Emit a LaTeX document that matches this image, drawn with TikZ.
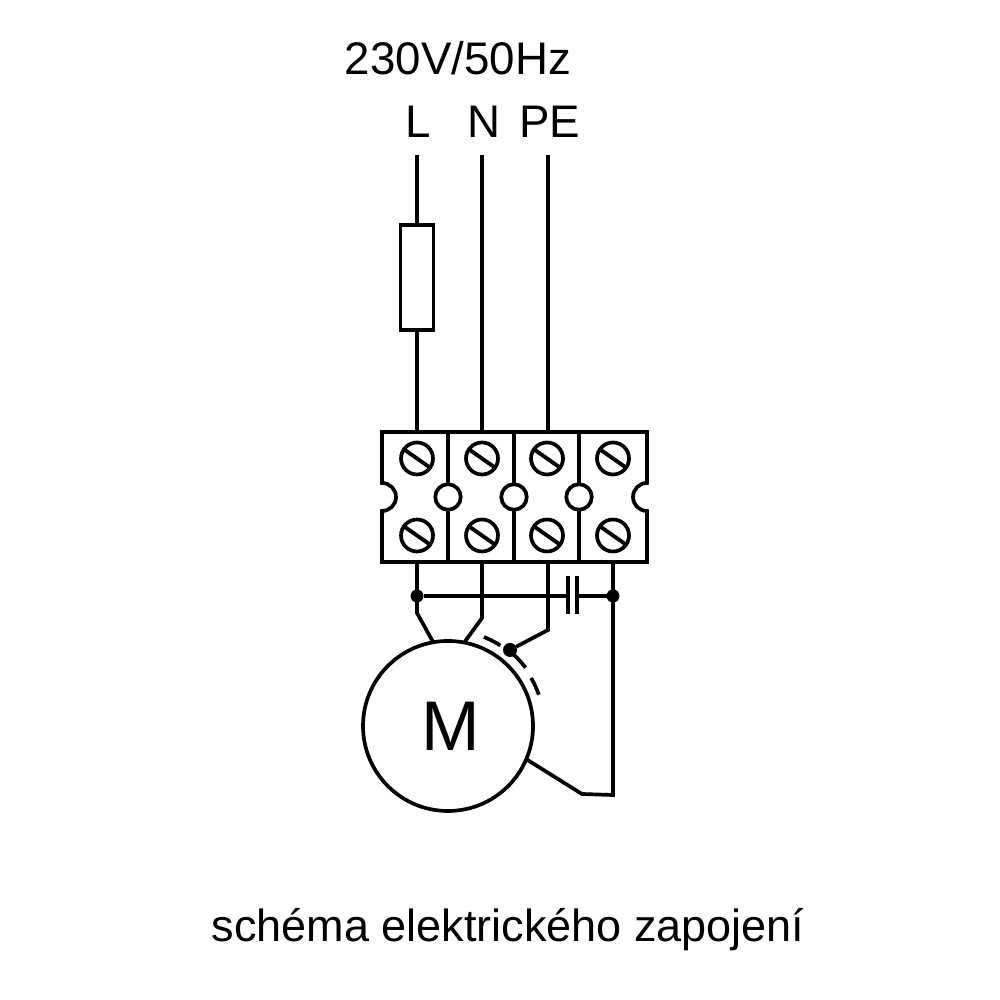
\documentclass[tikz,border=0pt]{standalone}
\usepackage{fontspec}
\setmainfont{Liberation Sans}
\usetikzlibrary{positioning}
\tikzset{
    wire/.style={line width=1.05pt},
    screw/.style={circle,draw,line width=1.05pt,minimum size=0.32cm,inner sep=0pt,outer sep=0pt},
    hole/.style={circle,draw,fill=white,line width=1.05pt,minimum size=0.255cm,inner sep=0pt,outer sep=0pt},
    joint/.style={circle,fill=black,minimum size=#1,inner sep=0pt,outer sep=0pt},
    lbl/.style={font=\fontsize{13}{15}\selectfont,inner sep=0pt}
}

\begin{document}
\begin{tikzpicture}[wire]
    \useasboundingbox (0,0) rectangle (10,10);

    % labels
    \node[lbl] (supply) at (4.58,9.42) {230V/50Hz};
    \node[lbl] (L) at (4.18,8.78) {L};
    \node[lbl] (N) at (4.835,8.78) {N};
    \node[lbl] (PE) at (5.495,8.78) {PE};
    \node[lbl,font=\fontsize{12.8}{15}\selectfont] (caption) at (5.08,0.70) {schéma elektrického zapojení};

    % terminal block
    \node[minimum width=2.65cm,minimum height=1.30cm,inner sep=0pt,outer sep=0pt] (block) at (5.145,5.03) {};
    \draw (block.north west) -- (block.north east) -- ++(0,-0.51)
        arc[start angle=90,end angle=270,radius=0.14] -- (block.south east)
        -- (block.south west) -- ++(0,0.51)
        arc[start angle=-90,end angle=90,radius=0.14] -- cycle;
    \foreach \x [count=\i] in {4.17,4.82,5.47,6.13} {
        \node[screw] (top\i) at (\x,5.415) {};
        \node[screw] (bot\i) at (\x,4.645) {};
        \draw[line width=1.1pt] (top\i.145) -- (top\i.-35);
        \draw[line width=1.1pt] (bot\i.145) -- (bot\i.-35);
    }
    \foreach \x [count=\i] in {4.48,5.14,5.79} {
        \node[hole] (h\i) at (\x,5.03) {};
        \draw (h\i.north) -- (h\i.north |- block.north);
        \draw (h\i.south) -- (h\i.south |- block.south);
    }

    % fuse
    \node[draw,minimum width=0.33cm,minimum height=1.05cm,inner sep=0pt,outer sep=0pt] (fuse) at (4.17,7.225) {};

    % motor
    \node[circle,draw,minimum size=1.70cm,inner sep=0pt,outer sep=0pt,font=\fontsize{20}{22}\selectfont] (M) at (4.48,2.74) {\hspace*{0.06cm}M};

    % points on the wires
    \coordinate (Lin) at (4.17,8.45);
    \coordinate (Nin) at (4.82,8.45);
    \coordinate (PEin) at (5.48,8.45);
    \coordinate (Lbend) at (4.17,3.87);
    \coordinate (Nbend) at (4.82,3.82);
    \coordinate (PEbend) at (5.48,3.70);
    \coordinate (Rbend) at (6.13,2.05);
    \coordinate (Mbend) at (5.82,2.06);
    \coordinate (capl) at (5.68,4.04);
    \coordinate (capr) at (5.77,4.04);
    \node[joint=0.13cm] (jl) at (4.17,4.04) {};
    \node[joint=0.13cm] (jr) at (6.13,4.04) {};
    \node[joint=0.14cm] (jm) at (5.10,3.50) {};

    % supply side
    \draw (Lin) -- (fuse.north);
    \draw (fuse.south) -- (Lin |- block.north);
    \draw (Nin) -- (Nin |- block.north);
    \draw (PEin) -- (PEin |- block.north);

    % motor side
    \draw (Lin |- block.south) -- (Lbend) -- (M.100);
    \draw (Nin |- block.south) -- (Nbend) -- (M.79);
    \draw (PEin |- block.south) -- (PEbend) -- (jm);
    \draw (jr |- block.south) -- (Rbend) -- (Mbend) -- (M.-23);

    % capacitor
    \draw (jl) -- (capl);
    \draw (capr) -- (jr);
    \draw (5.68,4.24) -- (5.68,3.86);
    \draw (5.77,4.24) -- (5.77,3.86);

    % dashed arc
    \draw (4.48,2.74) ++(68:0.96) arc[start angle=68,end angle=57,radius=0.96];
    \draw (4.48,2.74) ++(51:0.97) arc[start angle=51,end angle=37,radius=0.97];
    \draw (4.48,2.74) ++(30:0.96) arc[start angle=30,end angle=19,radius=0.96];
\end{tikzpicture}
\end{document}
